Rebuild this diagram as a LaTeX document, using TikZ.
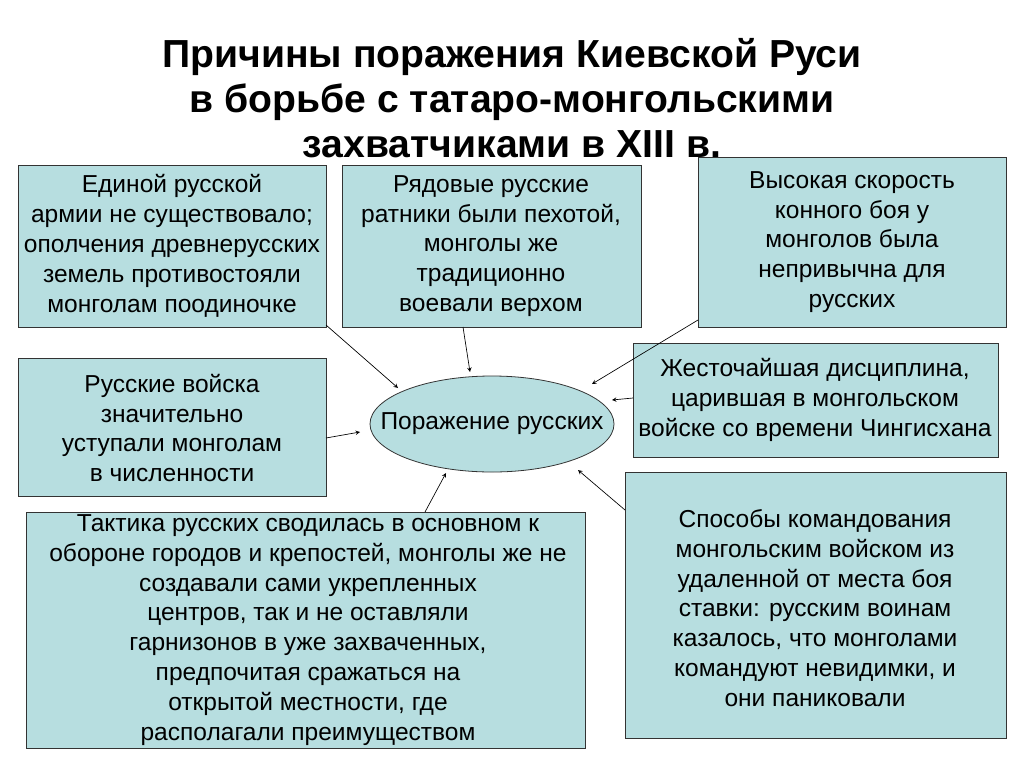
\documentclass[tikz,border=0pt]{standalone}
\usepackage{fontspec}
\setmainfont{Liberation Sans}
\usetikzlibrary{positioning}
\definecolor{boxfill}{HTML}{B7DEE0}
\tikzset{
  cause/.style={draw=black!80,fill=boxfill,line width=0.6pt},
  txt/.style={align=center,font=\fontsize{18.5}{22.5}\selectfont},
  link/.style={->,>=stealth,line width=0.5pt}
}
\begin{document}
\begin{tikzpicture}[x=0.0265cm,y=-0.0265cm]
        \useasboundingbox (0,0) rectangle (1024,767);
        \node[txt,font=\bfseries\fontsize{29.5}{34}\selectfont] (title) at (512,98)
          {Причины поражения Киевской Руси\\в борьбе с татаро-монгольскими\\захватчиками в XIII в.};

        \path[cause] (18,165) rectangle (326,327);
        \path[cause] (342,165) rectangle (641,327);
        \path[cause] (698,157) rectangle (1006,327);
        \path[cause] (18,358) rectangle (326,496);
        \path[cause] (633,343) rectangle (998,457);
        \path[cause] (26,512) rectangle (585,748);
        \path[cause] (625,472) rectangle (1006,738);

        \path
        (172,246) node[txt] (army) {Единой русской\\армии не существовало;\\ополчения древнерусских\\земель противостояли\\монголам поодиночке}
        (491,246) node[txt] (foot) {Рядовые русские\\ратники были пехотой,\\монголы же\\традиционно\\воевали верхом}
        (852,242) node[txt] (speed) {Высокая скорость\\конного боя у\\монголов была\\непривычна для\\русских}
        (172,428) node[txt] (count) {Русские войска\\значительно\\уступали монголам\\в численности}
        (815,400) node[txt] (disc) {Жесточайшая дисциплина,\\царившая в монгольском\\войске со времени Чингисхана}
        (308,630) node[txt] (tact) {Тактика русских сводилась в основном к\\обороне городов и крепостей, монголы же не\\создавали сами укрепленных\\центров, так и не оставляли\\гарнизонов в уже захваченных,\\предпочитая сражаться на\\открытой местности, где\\располагали преимуществом}
        (815,608) node[txt] (cmd) {Способы командования\\монгольским войском из\\удаленной от места боя\\ставки: русским воинам\\казалось, что монголами\\командуют невидимки, и\\они паниковали}
        ;

        \draw[cause] (492,424) ellipse [x radius=122,y radius=48];
        \node[txt] (defeat) at (492,424) {Поражение русских};

        \coordinate (a1) at (326,325); \coordinate (e1) at (398,388);
        \coordinate (a2) at (463,327); \coordinate (e2) at (470,372);
        \coordinate (a3) at (698,320); \coordinate (e3) at (592,384);
        \coordinate (a4) at (326,438); \coordinate (e4) at (360,432);
        \coordinate (a5) at (633,398); \coordinate (e5) at (612,400);
        \coordinate (a6) at (425,512); \coordinate (e6) at (446,473);
        \coordinate (a7) at (625,510); \coordinate (e7) at (578,470);
        \foreach \i in {1,...,7} {
          \draw[link] (a\i) -- (e\i);
        }
      \end{tikzpicture}
\end{document}
